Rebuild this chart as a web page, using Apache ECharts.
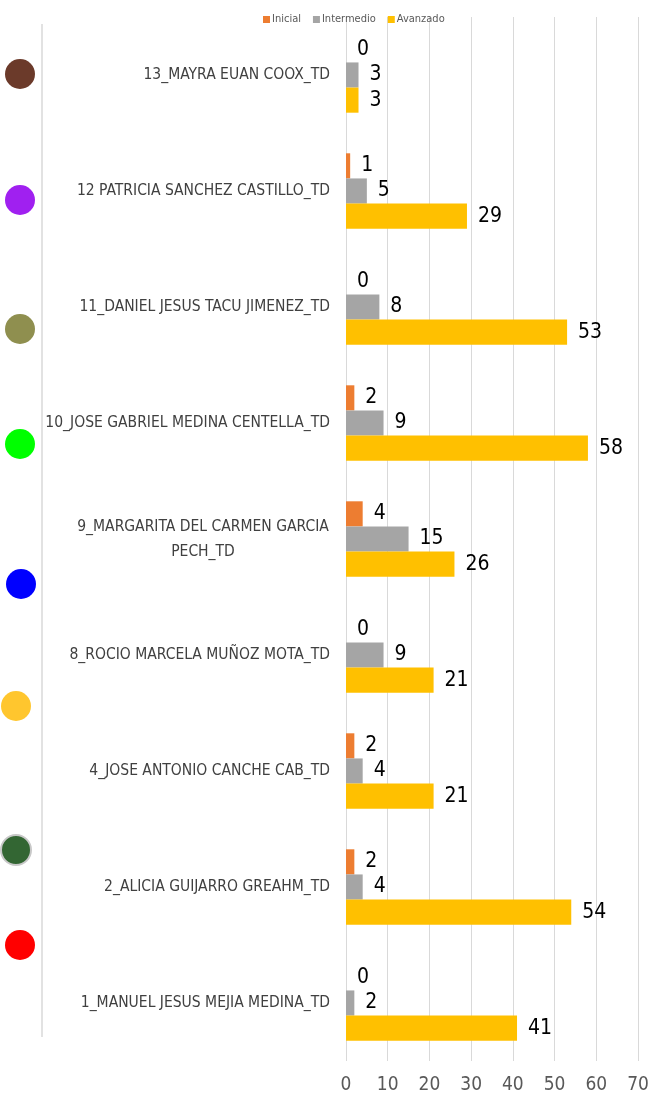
<!DOCTYPE html>
<html>
<head>
<meta charset="utf-8">
<script src="https://cdn.jsdelivr.net/npm/echarts@6/dist/echarts.min.js"></script>
<style>
  html, body { margin: 0; padding: 0; background: #fff; }
  #chart { width: 653px; height: 1101px; }
</style>
</head>
<body>
<div id="chart"></div>
<script>
const categories = [
  '13_MAYRA EUAN COOX_TD',
  '12 PATRICIA SANCHEZ CASTILLO_TD',
  '11_DANIEL JESUS TACU JIMENEZ_TD',
  '10_JOSE GABRIEL MEDINA CENTELLA_TD',
  '9_MARGARITA DEL CARMEN GARCIA\nPECH_TD',
  '8_ROCIO MARCELA MUÑOZ MOTA_TD',
  '4_JOSE ANTONIO CANCHE CAB_TD',
  '2_ALICIA GUIJARRO GREAHM_TD',
  '1_MANUEL JESUS MEJIA MEDINA_TD'
];
const inicial = [0, 1, 0, 2, 4, 0, 2, 2, 0];
const intermedio = [3, 5, 8, 9, 15, 9, 4, 4, 2];
const avanzado = [3, 29, 53, 58, 26, 21, 21, 54, 41];
const xTicks = [0, 10, 20, 30, 40, 50, 60, 70];

const font = '"DejaVu Sans Condensed", "Liberation Sans Narrow", sans-serif';

const chart = echarts.init(document.getElementById('chart'));

// decorative dots on the left
const dots = [
  { y: 74, color: '#6B3A2A' },
  { y: 200, color: '#A020F0' },
  { y: 329, color: '#8F8F4F' },
  { y: 444, color: '#00FF00' },
  { y: 584, color: '#0000FF', x: 21 },
  { y: 706, color: '#FFC62E', x: 16 },
  { y: 850, color: '#336633', x: 16, border: true },
  { y: 945, color: '#FF0000' }
];

const barLabel = {
  show: true,
  position: 'right',
  distance: 11,
  color: '#000',
  fontSize: 21,
  fontFamily: font
};

chart.setOption({
  animation: false,
  legend: {
    top: 9,
    left: 258,
    itemWidth: 7,
    itemHeight: 7,
    itemGap: 12,
    icon: 'rect',
    textStyle: { fontSize: 11, color: '#595959', fontFamily: font, padding: [0, 0, 0, -3] },
    data: ['Inicial', 'Intermedio', 'Avanzado']
  },
  grid: { left: 346, right: 15, top: 17, bottom: 40 },
  xAxis: {
    type: 'value',
    min: 0,
    max: 70,
    interval: 10,
    axisLine: { show: false },
    axisTick: { show: false },
    axisLabel: {
      fontSize: 19,
      color: '#595959',
      fontFamily: font,
      margin: 15,
      formatter: v => (xTicks.includes(v) ? String(v) : '')
    },
    splitLine: { lineStyle: { color: '#D9D9D9', width: 1 } }
  },
  yAxis: {
    type: 'category',
    inverse: true,
    data: categories,
    axisLine: { show: false },
    axisTick: { show: false },
    axisLabel: {
      fontSize: 15.5,
      color: '#404040',
      fontFamily: font,
      margin: 16,
      lineHeight: 25,
      formatter: v => {
        if (v.indexOf('\n') >= 0) {
          return v.split('\n').map(s => '{c|' + s + '}').join('\n');
        }
        return v;
      },
      rich: {
        c: { fontSize: 15.5, color: '#404040', fontFamily: font, width: 254, align: 'center', lineHeight: 25 }
      }
    }
  },
  series: [
    {
      name: 'Inicial', type: 'bar', data: inicial,
      barGap: '0%', barCategoryGap: '35%',
      itemStyle: { color: '#ED7D31' },
      label: barLabel
    },
    {
      name: 'Intermedio', type: 'bar', data: intermedio,
      itemStyle: { color: '#A5A5A5' },
      label: barLabel
    },
    {
      name: 'Avanzado', type: 'bar', data: avanzado,
      itemStyle: { color: '#FFC000' },
      label: barLabel
    }
  ],
  graphic: [
    {
      type: 'line',
      shape: { x1: 42, y1: 24, x2: 42, y2: 1037 },
      style: { stroke: '#D9D9D9', lineWidth: 1.5 }
    }
  ].concat(dots.map(d => ({
    type: 'circle',
    shape: { cx: d.x || 20, cy: d.y, r: 15 },
    style: {
      fill: d.color,
      stroke: d.border ? '#C8C8C8' : null,
      lineWidth: d.border ? 2 : 0
    }
  })))
});
</script>
</body>
</html>
